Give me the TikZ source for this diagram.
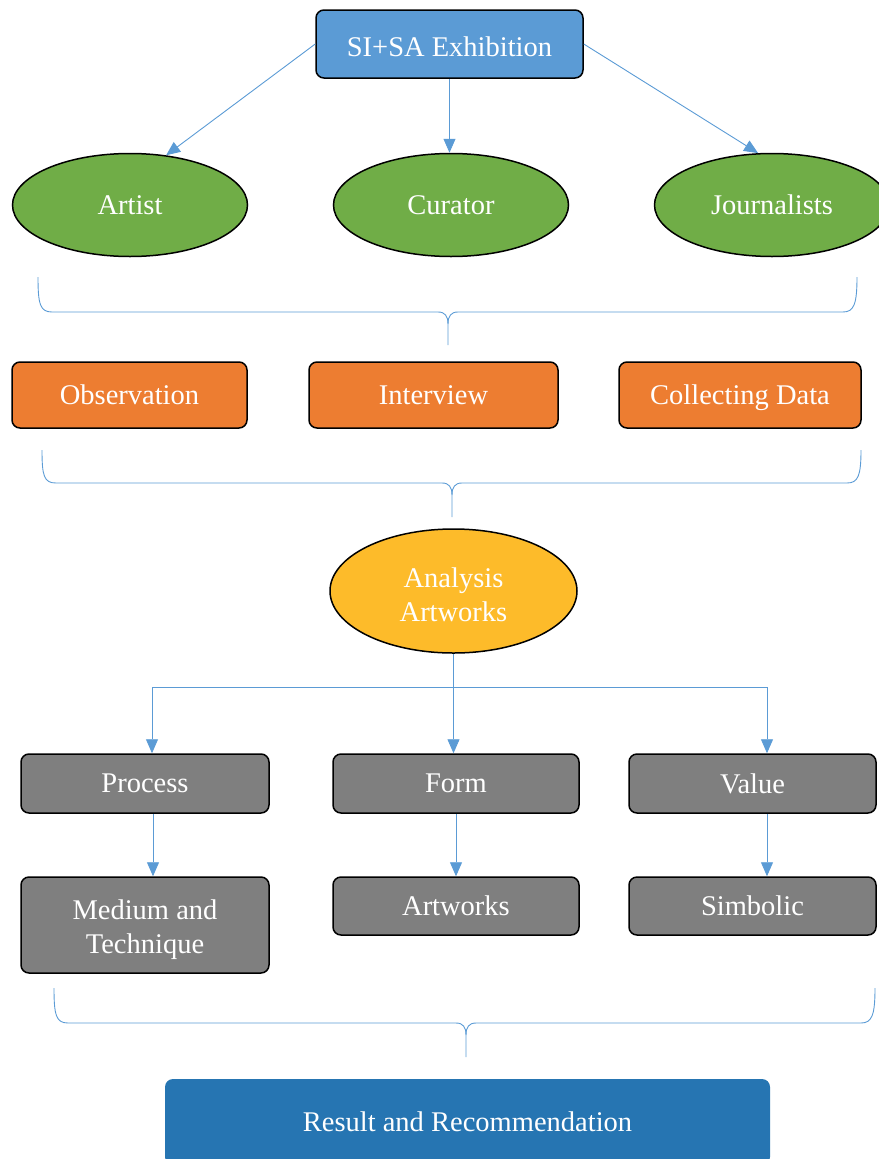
\documentclass[tikz,border=0pt]{standalone}
\usepackage{fontspec}
\setmainfont{Liberation Serif}
\usetikzlibrary{shapes.geometric,arrows.meta}
\definecolor{colTop}{RGB}{91,155,213}
\definecolor{colGreen}{RGB}{112,173,71}
\definecolor{colOrange}{RGB}{237,125,49}
\definecolor{colGold}{RGB}{253,187,42}
\definecolor{colGrey}{RGB}{127,127,127}
\definecolor{colRes}{RGB}{38,117,178}
\colorlet{lcol}{colTop}
\tikzstyle{box}=[rectangle, rounded corners=8pt, draw=black, line width=1.5pt, text=white, inner sep=0pt, align=center, font={\fontsize{28.5}{34}\selectfont}]
\tikzstyle{oval}=[box, ellipse]
\tikzstyle{link}=[draw=lcol, line width=0.9pt]
\tikzstyle{arr}=[link, -{Triangle[width=12pt,length=14pt]}, lcol]
\tikzstyle{brc}=[link]

\begin{document}
\begin{tikzpicture}[x=1pt, y=-1pt]
			\useasboundingbox (0,0) rectangle (878,1159);
			%%% Top
			\node[box, fill=colTop, minimum width=267, minimum height=68, text height=24pt, text depth=0pt] (top) at (449.5, 44) {SI+SA Exhibition};

			%%% People
			\node[oval, fill=colGreen, minimum width=235, minimum height=103] (artist)  at (130, 205) {Artist};
			\node[oval, fill=colGreen, minimum width=235, minimum height=103] (curator) at (451, 205) {Curator};
			\node[oval, fill=colGreen, minimum width=235, minimum height=103] (journ)   at (772, 205) {Journalists};
			\draw[arr] (top.west)  -- (artist.54);
			\draw[arr] (top.south) -- (top.south |- curator.north);
			\draw[arr] (top.east)  -- (journ.105);

			% Brace under people
			\coordinate (b1l) at (38, 277);
			\coordinate (b1r) at (857, 277);
			\coordinate (b1t) at (448, 345);
			\draw[brc] (b1l) .. controls (38, 304) and (40, 312) .. (52, 312) -- (438, 312)
				.. controls (445, 312) and (448, 316) .. (448, 324) -- (b1t);
			\draw[brc] (448, 324) .. controls (448, 316) and (451, 312) .. (458, 312) -- (843, 312)
				.. controls (854, 312) and (857, 304) .. (b1r);

			%%% Methods
			\node[box, fill=colOrange, minimum width=235, minimum height=66] (obs)  at (129.5, 395) {Observation};
			\node[box, fill=colOrange, minimum width=249, minimum height=66] (intv) at (433.5, 395) {Interview};
			\node[box, fill=colOrange, minimum width=242, minimum height=66, text depth=0pt] (coll) at (740, 395) {Collecting Data};

			% Brace under methods
			\coordinate (b2l) at (42, 450);
			\coordinate (b2r) at (861, 450);
			\coordinate (b2t) at (452, 517);
			\draw[brc] (b2l) .. controls (42, 476) and (44, 483) .. (56, 483) -- (442, 483)
				.. controls (449, 483) and (452, 487) .. (452, 495) -- (b2t);
			\draw[brc] (452, 495) .. controls (452, 487) and (455, 483) .. (462, 483) -- (847, 483)
				.. controls (858, 483) and (861, 476) .. (b2r);

			%%% Analysis
			\node[oval, fill=colGold, minimum width=247, minimum height=124, text height=60pt, text depth=0pt] (ana) at (453.5, 591) {Analysis\\Artworks};

			%%% Aspects
			\node[box, fill=colGrey, minimum width=248, minimum height=59] (proc) at (145, 783.5)   {Process};
			\node[box, fill=colGrey, minimum width=246, minimum height=59] (form) at (456, 783.5)   {Form};
			\node[box, fill=colGrey, minimum width=247, minimum height=59] (val)  at (752.5, 783.5) {Value};
			\node[box, fill=colGrey, minimum width=248, minimum height=96, text height=56pt, text depth=0pt] (med) at (145, 925) {Medium and\\Technique};
			\node[box, fill=colGrey, minimum width=246, minimum height=58] (artw) at (456, 906)     {Artworks};
			\node[box, fill=colGrey, minimum width=247, minimum height=58] (simb) at (752.5, 906)   {Simbolic};

			% Fork from analysis
			\coordinate (pk) at (152, 687);
			\coordinate (vk) at (767, 687);
			\draw[link] (pk) -- (vk);
			\draw[arr] (ana.south) -- (ana.south |- form.north);
			\draw[arr] (pk) -- (pk |- proc.north);
			\draw[arr] (vk) -- (vk |- val.north);
			\draw[arr] ([xshift=8]proc.south) -- ([xshift=8]med.north);
			\draw[arr] (form.south) -- (artw.north);
			\draw[arr] ([xshift=14.5]val.south) -- ([xshift=14.5]simb.north);

			% Brace under aspects
			\coordinate (b3l) at (54, 988);
			\coordinate (b3r) at (875, 988);
			\coordinate (b3t) at (466, 1057);
			\draw[brc] (b3l) .. controls (54, 1015) and (56, 1023) .. (68, 1023) -- (456, 1023)
				.. controls (463, 1023) and (466, 1027) .. (466, 1035) -- (b3t);
			\draw[brc] (466, 1035) .. controls (466, 1027) and (469, 1023) .. (476, 1023) -- (861, 1023)
				.. controls (872, 1023) and (875, 1015) .. (b3r);

			%%% Result
			\node[box, draw=none, fill=colRes, minimum width=605, minimum height=86] (res) at (467.5, 1122) {Result and Recommendation};
		\end{tikzpicture}
\end{document}
